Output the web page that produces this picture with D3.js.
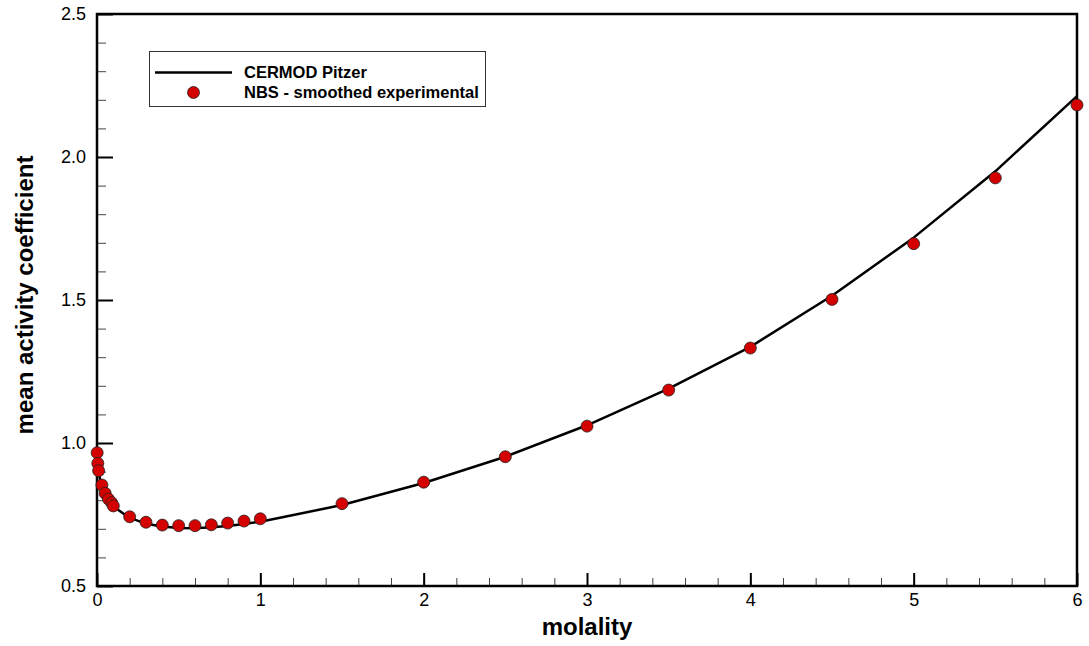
<!DOCTYPE html>
<html>
<head>
<meta charset="utf-8">
<script src="https://cdn.jsdelivr.net/npm/d3@7"></script>
<style>
  html, body { margin: 0; padding: 0; background: #fff; }
  svg { display: block; }
  text { font-family: "Liberation Sans", Arial, Helvetica, sans-serif; fill: #000; }
</style>
</head>
<body>
<svg id="chart" width="1089" height="646"></svg>
<script>
// NBS smoothed experimental mean activity coefficients
const expMolality = [0.001, 0.005, 0.01, 0.03, 0.05, 0.07, 0.09, 0.1,
  0.2, 0.3, 0.4, 0.5, 0.6, 0.7, 0.8, 0.9, 1.0,
  1.5, 2.0, 2.5, 3.0, 3.5, 4.0, 4.5, 5.0, 5.5, 6.0];
const expGamma = [0.966, 0.929, 0.903, 0.853, 0.824, 0.804, 0.791, 0.780,
  0.742, 0.723, 0.713, 0.711, 0.711, 0.714, 0.720, 0.727, 0.735,
  0.788, 0.863, 0.952, 1.059, 1.185, 1.332, 1.502, 1.697, 1.927, 2.182];

// CERMOD Pitzer model curve
const modelMolality = [0.001, 0.005, 0.01, 0.02, 0.05, 0.1, 0.2, 0.3, 0.4, 0.5,
  0.6, 0.7, 0.8, 0.9, 1.0, 1.5, 2.0, 2.5, 3.0, 3.5, 4.0, 4.5, 5.0, 5.5, 6.0];
const modelGamma = [0.965, 0.928, 0.902, 0.868, 0.820, 0.778, 0.738, 0.718, 0.708, 0.703,
  0.702, 0.705, 0.710, 0.717, 0.725, 0.783, 0.860, 0.952, 1.062, 1.190, 1.336, 1.515, 1.718, 1.950, 2.213];

// Axis ticks
const xMajorTicks = [0, 1, 2, 3, 4, 5, 6];
const xMinorTicks = d3.range(0, 6.0001, 0.2);
const yMajorTicks = [0.5, 1.0, 1.5, 2.0, 2.5];
const yMinorTicks = d3.range(0.5, 2.5001, 0.1);

const legendLabels = ["CERMOD Pitzer", "NBS - smoothed experimental"];
const xTitle = "molality";
const yTitle = "mean activity coefficient";

const svg = d3.select("#chart");
const plotLeft = 97, plotRight = 1077, plotTop = 14, plotBottom = 586;

const x = d3.scaleLinear().domain([0, 6]).range([plotLeft, plotRight]);
const y = d3.scaleLinear().domain([0.5, 2.5]).range([plotBottom, plotTop]);

// minor ticks (inward, unlabeled)
svg.append("g")
  .attr("transform", `translate(0,${plotBottom})`)
  .call(d3.axisBottom(x).tickValues(xMinorTicks).tickSize(-8).tickFormat(""))
  .call(g => g.select(".domain").remove())
  .call(g => g.selectAll("line").attr("stroke", "#444").attr("stroke-width", 1));
svg.append("g")
  .attr("transform", `translate(${plotLeft},0)`)
  .call(d3.axisLeft(y).tickValues(yMinorTicks).tickSize(-9).tickFormat(""))
  .call(g => g.select(".domain").remove())
  .call(g => g.selectAll("line").attr("stroke", "#444").attr("stroke-width", 1));

// major ticks with labels
svg.append("g")
  .attr("transform", `translate(0,${plotBottom})`)
  .call(d3.axisBottom(x).tickValues(xMajorTicks).tickSize(-13).tickPadding(7).tickFormat(d3.format("d")))
  .call(g => g.select(".domain").remove())
  .call(g => g.selectAll("line").attr("stroke", "#000").attr("stroke-width", 2))
  .call(g => g.selectAll("text").attr("font-size", 18).attr("font-family", "Liberation Sans, Arial, sans-serif").attr("fill", "#000"));
svg.append("g")
  .attr("transform", `translate(${plotLeft},0)`)
  .call(d3.axisLeft(y).tickValues(yMajorTicks).tickSize(-16).tickPadding(11).tickFormat(d3.format(".1f")))
  .call(g => g.select(".domain").remove())
  .call(g => g.selectAll("line").attr("stroke", "#000").attr("stroke-width", 2))
  .call(g => g.selectAll("text").attr("font-size", 18).attr("font-family", "Liberation Sans, Arial, sans-serif").attr("fill", "#000"));

// frame
svg.append("rect")
  .attr("x", plotLeft).attr("y", plotTop)
  .attr("width", plotRight - plotLeft).attr("height", plotBottom - plotTop)
  .attr("fill", "none").attr("stroke", "#000").attr("stroke-width", 2.5);

// model curve
const modelData = modelMolality.map((m, i) => [m, modelGamma[i]]);
svg.append("path")
  .datum(modelData)
  .attr("fill", "none")
  .attr("stroke", "#000")
  .attr("stroke-width", 2.5)
  .attr("stroke-linejoin", "round")
  .attr("d", d3.line().x(d => x(d[0])).y(d => y(d[1])));

// experimental points
const expData = expMolality.map((m, i) => [m, expGamma[i]]);
svg.append("g").selectAll("circle")
  .data(expData)
  .join("circle")
  .attr("cx", d => x(d[0]))
  .attr("cy", d => y(d[1]))
  .attr("r", 6)
  .attr("fill", "#d40000")
  .attr("stroke", "#222")
  .attr("stroke-width", 0.8);

// axis titles
svg.append("text")
  .attr("x", (plotLeft + plotRight) / 2).attr("y", 635)
  .attr("text-anchor", "middle")
  .attr("font-size", 24).attr("font-weight", "bold")
  .text(xTitle);
svg.append("text")
  .attr("transform", "translate(33,295) rotate(-90)")
  .attr("text-anchor", "middle")
  .attr("font-size", 24).attr("font-weight", "bold")
  .text(yTitle);

// legend
const legend = svg.append("g");
legend.append("rect")
  .attr("x", 149.5).attr("y", 51.5).attr("width", 336).attr("height", 55)
  .attr("fill", "#fff").attr("stroke", "#333").attr("stroke-width", 1);
legend.append("line")
  .attr("x1", 155).attr("x2", 232).attr("y1", 72.5).attr("y2", 72.5)
  .attr("stroke", "#000").attr("stroke-width", 2.5);
legend.append("circle")
  .attr("cx", 193.5).attr("cy", 92.5).attr("r", 6)
  .attr("fill", "#d40000").attr("stroke", "#222").attr("stroke-width", 0.8);
legend.selectAll("text.lbl")
  .data(legendLabels)
  .join("text")
  .attr("class", "lbl")
  .attr("x", 244)
  .attr("y", (d, i) => 78 + i * 19.5)
  .attr("font-size", 16.5).attr("font-weight", "bold")
  .text(d => d);
</script>
</body>
</html>
